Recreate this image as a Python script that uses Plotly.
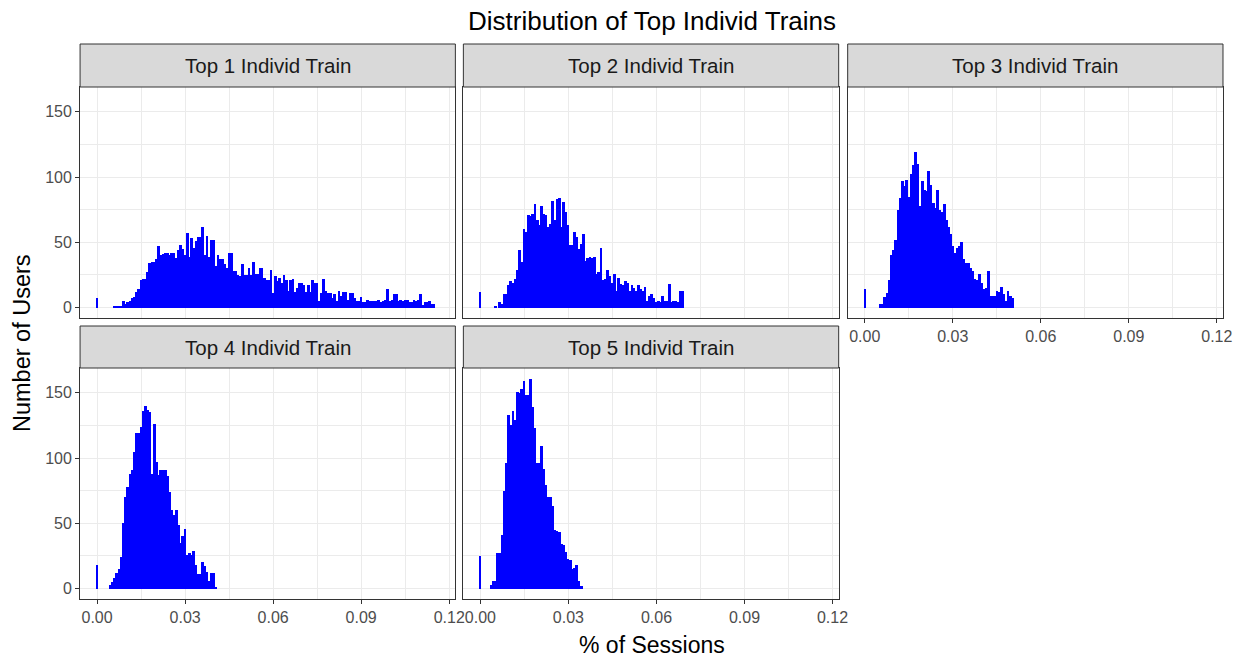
import numpy as np
import plotly.graph_objects as go

# ---------------- data ----------------
bin_width = 0.00075

panel_titles = ["Top 1 Individ Train", "Top 2 Individ Train", "Top 3 Individ Train",
                "Top 4 Individ Train", "Top 5 Individ Train"]

counts_top1 = [7] + [0] * 7 + [
    1, 1, 1, 1, 5, 3, 4, 5, 7, 8, 12, 14, 21, 22, 22, 27, 34, 35, 35, 37, 47, 40,
    41, 42, 42, 40, 42, 42, 38, 44, 48, 45, 40, 57, 39, 53, 46, 51, 54, 54, 62, 40,
    55, 39, 52, 52, 32, 40, 37, 37, 33,
    30, 42, 42, 28, 28, 25, 24, 33, 25, 25, 30, 25, 35, 26, 26, 30, 30, 23, 21, 21,
    29, 11, 24, 20, 23, 19, 25, 21, 13,
    21, 22, 12, 15, 19, 19, 17, 12, 17, 12, 21, 19, 19, 5, 11, 22, 13, 11, 11, 7,
    10, 5, 13, 9, 12, 12, 6, 11, 11,
    7, 5, 5, 8, 4, 4, 6, 5, 5, 5, 5, 6, 4, 5, 6, 14, 5, 6, 10, 10, 5, 6, 5, 6,
    6, 4, 4, 6, 5, 6, 10, 2, 4, 4, 5, 3, 3]

counts_top2 = [12] + [0] * 6 + [
    1, 0, 4, 3, 10, 10, 17, 20, 19, 22, 29, 44, 35, 60, 58, 71, 70, 72, 79, 67,
    63, 78, 72, 71, 62, 64, 82, 67, 83, 84, 62, 81, 73, 63, 48, 48, 58, 54, 45, 49,
    56, 36, 38, 39, 38, 39, 26, 27, 46, 21, 22, 29, 24, 19, 26, 13, 23, 18, 17, 20,
    19, 13, 17, 15, 13, 17, 14, 13, 16, 5, 9, 10, 7, 4, 5, 4, 9, 5, 5, 18,
    4, 5, 5, 4, 13, 13]

counts_top3 = [14] + [0] * 6 + [
    3, 3, 8, 11, 21, 40, 44, 52, 75, 84, 97, 93, 98, 85, 102, 109, 119, 110, 78, 97,
    90, 89, 105, 94, 80, 76, 90, 75, 73, 79, 67, 62, 56, 47, 42, 46, 47, 50, 37, 34,
    34, 30, 28, 22, 21, 26, 19, 14, 15, 28, 9, 9, 9, 13, 12, 16, 10, 5, 13, 9, 7]

counts_top4 = [18] + [0] * 5 + [
    3, 5, 8, 12, 15, 24, 50, 70, 78, 88, 91, 105, 119, 119, 124, 136, 140, 137, 135, 88,
    126, 97, 87, 91, 91, 91, 86, 74, 60, 56, 60, 49, 35, 40, 46, 26, 27, 26, 29, 18,
    11, 11, 20, 17, 13, 6, 12, 12, 1]

counts_top5 = [25] + [0] * 4 + [
    3, 6, 6, 27, 27, 41, 75, 96, 133, 125, 136, 129, 151, 150, 153, 159, 148, 148, 161, 139,
    123, 96, 96, 109, 92, 79, 70, 70, 63, 45, 44, 43, 34, 33, 28, 23, 22, 15, 16, 18,
    6, 2]

x_tick_vals = [0.0, 0.03, 0.06, 0.09, 0.12]
x_tick_text = ["0.00", "0.03", "0.06", "0.09", "0.12"]
y_tick_vals = [0, 50, 100, 150]
y_tick_text = ["0", "50", "100", "150"]

title_text = "Distribution of Top Individ Trains"
x_title = "% of Sessions"
y_title = "Number of Users"

all_counts = [counts_top1, counts_top2, counts_top3, counts_top4, counts_top5]

# ---------------- layout geometry ----------------
W, H = 1245, 660
W_EFF = 1235  # measured effective drawing width in the rendered page
def fx(px):
    return px / W_EFF
def fy(py):
    return 1 - py / H

col_px = [(80, 455), (463, 838), (847, 1222)]
row_px = [(87, 318), (368, 599)]
strip_px = [(44, 87), (326, 368)]
cells = [(0, 0), (0, 1), (0, 2), (1, 0), (1, 1)]  # (row, col)

x_range = [-0.0058, 0.1221]
ymax = max(max(c) for c in all_counts)
y_range = [-0.05 * ymax, 1.05 * ymax]

FONT = "Liberation Sans, Arial, sans-serif"
GRID = "#EBEBEB"
BORDER = "#333333"
TICKC = "#4D4D4D"

fig = go.Figure()
shapes = []
annotations = []
layout_axes = {}

for i, (counts, title) in enumerate(zip(all_counts, panel_titles)):
    r, c = cells[i]
    n = i + 1
    xa = "x" if n == 1 else f"x{n}"
    ya = "y" if n == 1 else f"y{n}"
    arr = np.array(counts, dtype=float)
    centers = np.arange(len(arr)) * bin_width
    mask = arr > 0
    fig.add_trace(go.Bar(
        x=centers[mask], y=arr[mask], width=bin_width * 1.25,
        marker=dict(color="#0000FF", line=dict(width=0)),
        xaxis=xa, yaxis=ya, showlegend=False, hoverinfo="skip"))

    show_x = (i >= 2)
    show_y = (c == 0)
    x0, x1 = col_px[c]
    y0, y1 = row_px[r]
    layout_axes["xaxis" if n == 1 else f"xaxis{n}"] = dict(
        domain=[fx(x0), fx(x1)], anchor=ya, range=x_range,
        tickmode="array", tickvals=x_tick_vals, ticktext=x_tick_text,
        showticklabels=show_x, ticks="outside" if show_x else "",
        ticklen=4, tickcolor=BORDER, tickwidth=1,
        tickfont=dict(family=FONT, size=16, color=TICKC),
        showgrid=True, gridcolor=GRID, gridwidth=1.1, zeroline=False,
        minor=dict(tickmode="array", tickvals=[0.015, 0.045, 0.075, 0.105],
                   showgrid=True, gridcolor=GRID, gridwidth=0.6, ticks=""),
        showline=True, mirror=True, linecolor=BORDER, linewidth=1, fixedrange=True)
    layout_axes["yaxis" if n == 1 else f"yaxis{n}"] = dict(
        domain=[fy(y1), fy(y0)], anchor=xa, range=y_range,
        tickmode="array", tickvals=y_tick_vals, ticktext=y_tick_text,
        showticklabels=show_y, ticks="outside" if show_y else "",
        ticklen=4, tickcolor=BORDER, tickwidth=1,
        tickfont=dict(family=FONT, size=16, color=TICKC),
        showgrid=True, gridcolor=GRID, gridwidth=1.1, zeroline=False,
        minor=dict(tickmode="array", tickvals=[25, 75, 125],
                   showgrid=True, gridcolor=GRID, gridwidth=0.6, ticks=""),
        showline=True, mirror=True, linecolor=BORDER, linewidth=1, fixedrange=True)

    sy0, sy1 = strip_px[r]
    shapes.append(dict(type="rect", xref="paper", yref="paper",
                       x0=fx(x0), x1=fx(x1), y0=fy(sy1), y1=fy(sy0),
                       fillcolor="#D9D9D9", line=dict(color=BORDER, width=1),
                       layer="above"))
    annotations.append(dict(text=title, xref="paper", yref="paper",
                            x=fx((x0 + x1) / 2), y=fy((sy0 + sy1) / 2),
                            xanchor="center", yanchor="middle", showarrow=False,
                            font=dict(family=FONT, size=20.5, color="#1A1A1A")))

annotations.append(dict(text=x_title, xref="paper", yref="paper",
                        x=fx((80 + 1222) / 2), y=fy(645), xanchor="center", yanchor="middle",
                        showarrow=False, font=dict(family=FONT, size=23, color="#000000")))
annotations.append(dict(text=y_title, xref="paper", yref="paper", textangle=-90,
                        x=fx(22), y=fy((87 + 599) / 2), xanchor="center", yanchor="middle",
                        showarrow=False, font=dict(family=FONT, size=23.5, color="#000000")))
annotations.append(dict(text=title_text, xref="paper", yref="paper",
                        x=fx((80 + 1222) / 2), y=fy(21), xanchor="center", yanchor="middle",
                        showarrow=False, font=dict(family=FONT, size=26, color="#000000")))

fig.update_layout(
    width=W, height=H, autosize=False,
    margin=dict(l=0, r=0, t=0, b=0),
    paper_bgcolor="white", plot_bgcolor="white",
    bargap=0, barmode="overlay",
    shapes=shapes, annotations=annotations,
    **layout_axes)

fig.write_html("out.html",
               config={"responsive": False, "displayModeBar": False},
               post_script="document.body.style.margin='0';document.body.style.overflow='hidden';")
